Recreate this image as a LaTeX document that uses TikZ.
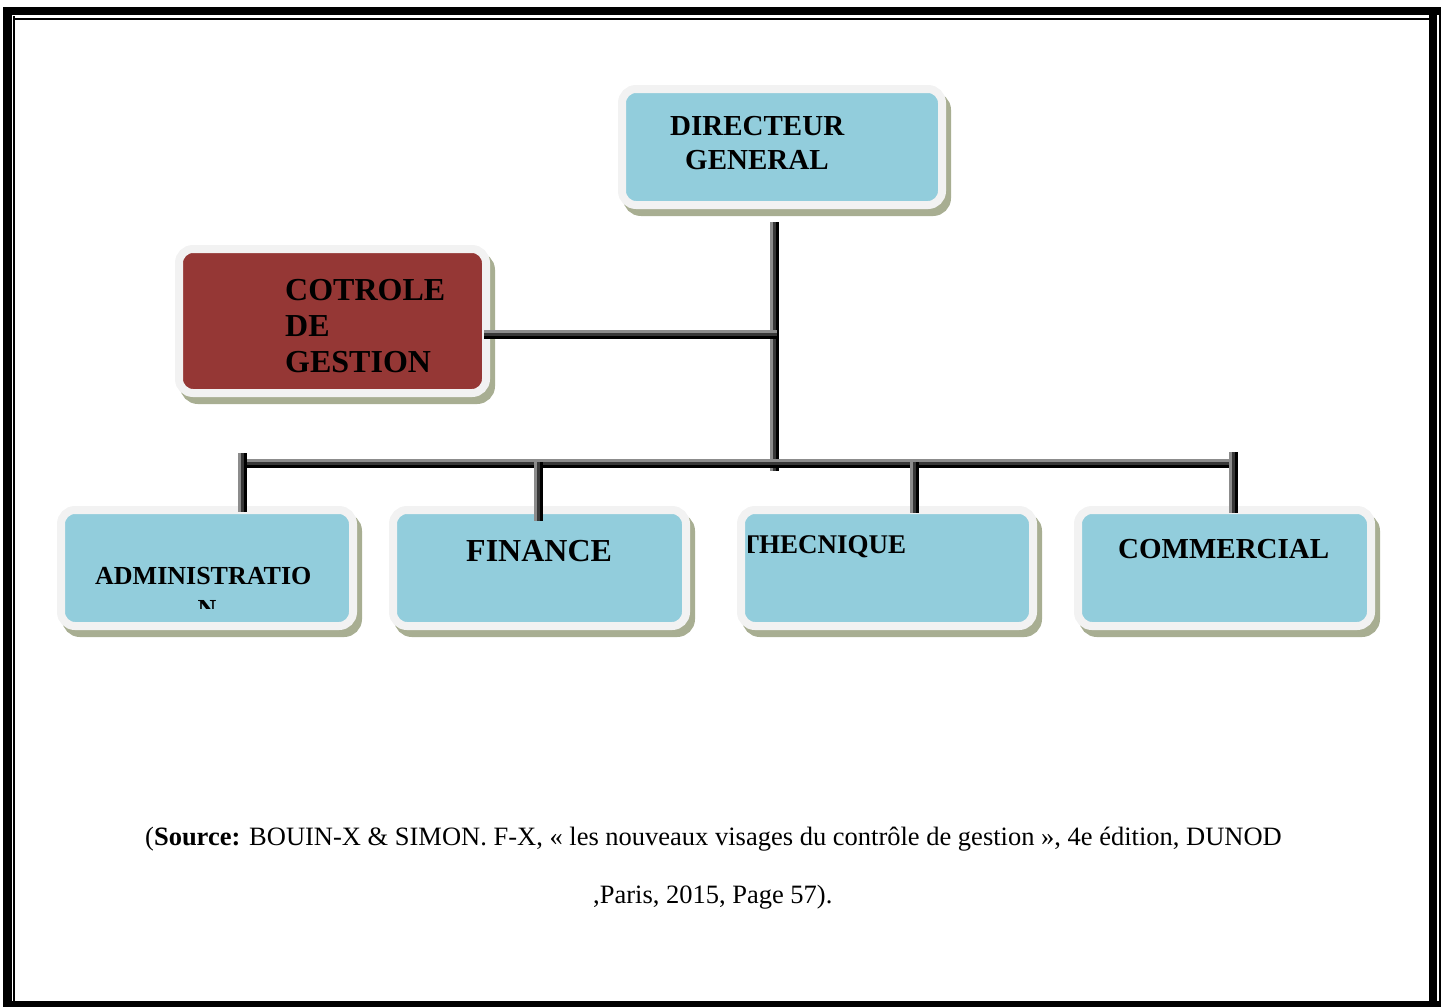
\documentclass[tikz,border=0pt]{standalone}
\usepackage{fontspec}
\setmainfont{Liberation Serif}
\usetikzlibrary{shadows,calc}

\definecolor{boxblue}{RGB}{146,205,220}
\definecolor{boxred}{RGB}{149,55,53}
\definecolor{boxrim}{RGB}{242,242,242}
\definecolor{boxshade}{RGB}{168,174,146}
\definecolor{linegrey}{RGB}{140,140,140}
\definecolor{linedark}{RGB}{55,55,55}

\tikzset{
  orgbox/.style={draw=boxrim, fill=boxblue, line width=8pt, rounded corners=14pt,
    inner sep=0pt,
    general shadow={draw=boxshade, fill=boxshade, line width=8pt,
      shadow xshift=5pt, shadow yshift=-7pt}},
  lbl/.style={inner sep=0pt, anchor=base west},
  vline/.style={draw=black, line width=3pt,
    preaction={draw=linedark, line width=3pt, transform canvas={xshift=-2.6pt}},
    preaction={draw=linegrey, line width=3pt, transform canvas={xshift=-5.2pt}}},
  hline/.style={draw=black, line width=3pt,
    preaction={draw=linedark, line width=3pt, transform canvas={yshift=2.6pt}},
    preaction={draw=linegrey, line width=3pt, transform canvas={yshift=5.2pt}}},
}

\begin{document}
\begin{tikzpicture}[x=1pt, y=-1pt]
\useasboundingbox (0,0) rectangle (1448,1007);

% page frame: thick-thin border
\fill[black] (3,7) rectangle (1441,15);
\fill[black] (3,7) rectangle (12,1007);
\fill[black] (1429,7) rectangle (1437,1007);
\fill[black] (1439,7) rectangle (1441,1007);
\fill[black] (3,1001) rectangle (1441,1007);
\fill[black] (13,18) rectangle (1429,20);
\fill[black] (13,16) rectangle (15,1001);

% boxes
\node[orgbox, minimum width=320pt, minimum height=116pt] (dg) at (782,147) {};
\node[orgbox, fill=boxred, minimum width=307pt, minimum height=144pt] (cdg) at (332.5,321) {};
\node[orgbox, minimum width=292pt, minimum height=116pt] (adm) at (207,568) {};
\node[orgbox, minimum width=293pt, minimum height=116pt] (fin) at (539.5,568) {};
\node[orgbox, minimum width=292pt, minimum height=116pt] (tec) at (887,568) {};
\node[orgbox, minimum width=293pt, minimum height=116pt] (com) at (1224.5,568) {};

% box labels
\node[lbl, font=\fontsize{29}{34}\selectfont\bfseries] (dgA) at (670,135) {DIRECTEUR};
\node[lbl, font=\fontsize{29}{34}\selectfont\bfseries] (dgB) at (685,169) {GENERAL};

\node[lbl, font=\fontsize{32}{36}\selectfont\bfseries] (cdgA) at (285,300) {COTROLE};
\node[lbl, font=\fontsize{32}{36}\selectfont\bfseries] (cdgB) at (285,336) {DE};
\node[lbl, font=\fontsize{32}{36}\selectfont\bfseries] (cdgC) at (285,372) {GESTION};

\node[lbl, font=\fontsize{26}{30}\selectfont\bfseries] (admA) at (95,584) {ADMINISTRATIO};
\begin{scope}
  \clip (60,560) rectangle (354,608);
  \node[lbl, anchor=base, font=\fontsize{26}{30}\selectfont\bfseries] (admB) at (207,617) {N};
\end{scope}

\node[lbl, font=\fontsize{32}{36}\selectfont\bfseries] (finA) at (466,561) {FINANCE};

\begin{scope}
  \clip (748,520) rectangle (1030,600);
  \node[lbl, font=\fontsize{27}{30}\selectfont\bfseries] (tecA) at (741,553) {THECNIQUE};
\end{scope}

\node[lbl, font=\fontsize{29}{34}\selectfont\bfseries] (comA) at (1118,558) {COMMERCIAL};

% junction points of the connector tree
\coordinate (trunktop) at (777,222);
\coordinate (trunkbot) at (777,471);
\coordinate (cjoin) at (777,337);
\coordinate (busL) at (240,466);
\coordinate (busR) at (1236,466);
\coordinate (admtop) at (245,453);
\coordinate (fintop) at (541,462);
\coordinate (tectop) at (917,462);
\coordinate (comtop) at (1236,452);

% connectors
\draw[vline] (trunktop) -- (trunkbot);
\draw[hline] ($(cdg.east |- cjoin)+(-6,0)$) -- (cjoin);
\draw[hline] (busL) -- (busR);
\draw[vline] (admtop) -- ($(admtop |- adm.north)+(0,6)$);
\draw[vline] (fintop) -- ($(fintop |- fin.north)+(0,15)$);
\draw[vline] (tectop) -- ($(tectop |- tec.north)+(0,7)$);
\draw[vline] (comtop) -- ($(comtop |- com.north)+(0,7)$);

% source
\node[lbl, font=\fontsize{26.5}{30}\selectfont] (srcA) at (145,845)
  {(\textbf{Source:} BOUIN-X \& SIMON. F-X, « les nouveaux visages du contrôle de gestion », 4e édition, DUNOD};
\node[lbl, font=\fontsize{26.5}{30}\selectfont] (srcB) at (593,903) {,Paris, 2015, Page 57).};
\end{tikzpicture}
\end{document}
